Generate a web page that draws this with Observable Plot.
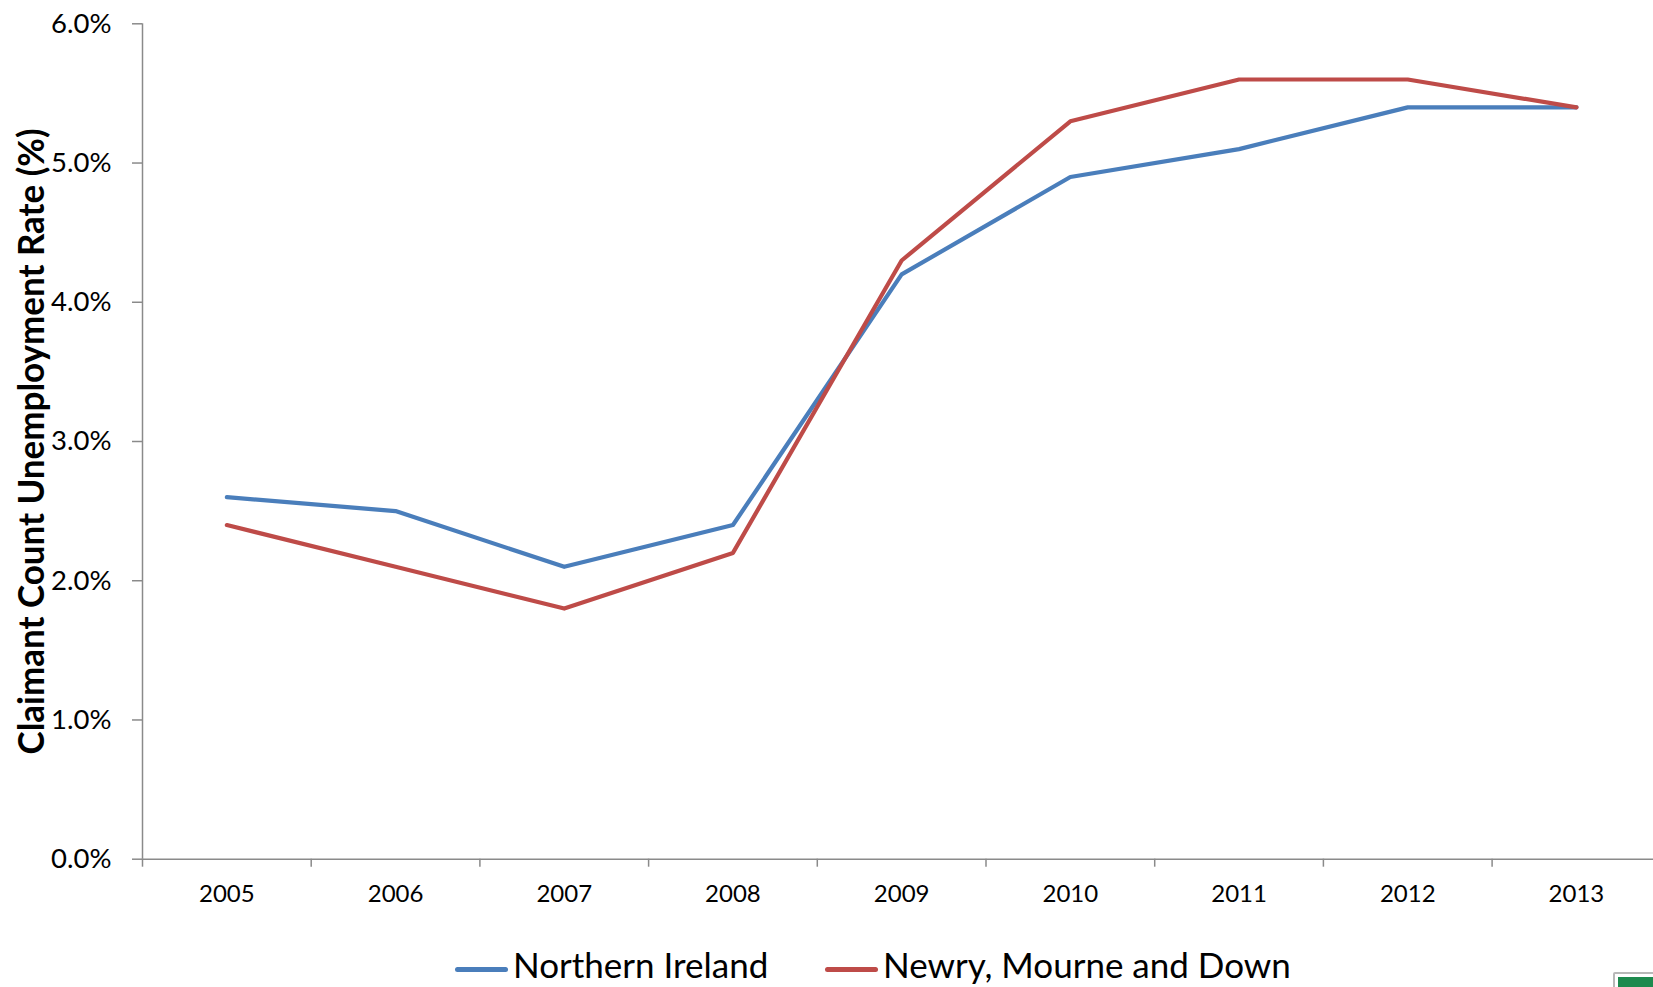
<!DOCTYPE html>
<html>
<head>
<meta charset="utf-8">
<script src="https://cdn.jsdelivr.net/npm/d3@7"></script>
<script src="https://cdn.jsdelivr.net/npm/@observablehq/plot@0.6"></script>
<style>
  body { margin: 0; background: #fff; font-family: Lato, "Open Sans", sans-serif; }
  #wrap { position: relative; width: 1653px; height: 987px; overflow: hidden; }
  #chart svg { display: block; }
  .legend { position: absolute; top: 930px; left: 0; width: 1653px; height: 57px; }
  .item { position: absolute; top: 13px; height: 42px; line-height: 42px; display: flex; align-items: center;
          font-size: 35px; color: #000; white-space: nowrap; }
  .swatch { width: 53px; height: 5px; border-radius: 3px; margin-right: 5px; margin-top: 10px; }
  #badge { position: absolute; left: 1613px; top: 972px; width: 44px; height: 20px;
           border: 2px solid #b8b8b8; border-radius: 2px; background: #fff; box-sizing: border-box; }
  #badge::after { content: ""; position: absolute; left: 3px; top: 3px; right: 0; bottom: 0; background: #1d8a4e; }
</style>
</head>
<body>
<div id="wrap">
  <div id="chart"></div>
  <div class="legend" id="legend"></div>
  <div id="badge"></div>
</div>
<script>
// Claimant count unemployment rate (%), annual
const years = [2005, 2006, 2007, 2008, 2009, 2010, 2011, 2012, 2013];
const northernIreland = [2.6, 2.5, 2.1, 2.4, 4.2, 4.9, 5.1, 5.4, 5.4];
const newryMourneDown = [2.4, 2.1, 1.8, 2.2, 4.3, 5.3, 5.6, 5.6, 5.4];

const seriesNames = ["Northern Ireland", "Newry, Mourne and Down"];
const seriesColors = ["#4A7EBB", "#BE4B48"];
const yTicks = [0, 1, 2, 3, 4, 5, 6];
const yTitle = "Claimant Count Unemployment Rate (%)";

// long-format table for the line mark
const seriesValues = [northernIreland, newryMourneDown];
const rows = seriesNames.flatMap((name, s) =>
  years.map((year, i) => ({ series: name, year, rate: seriesValues[s][i] })));

// category boundaries between the year slots (tick marks on the x axis)
const boundaries = years.map(y => y - 0.5);

const axisGrey = "#8a8a8a";
const plotW = 1653, plotH = 930;
const frameLeft = 142, slotWidth = 168.7, frameTop = 23.3, frameBottom = 858.7;

const chart = Plot.plot({
  width: plotW,
  height: plotH,
  marginLeft: frameLeft,
  marginRight: 0,
  marginTop: frameTop,
  marginBottom: plotH - frameBottom,
  style: { fontFamily: "Lato, 'Open Sans', sans-serif", color: "#000", background: "#fff" },
  x: { type: "linear", domain: [years[0] - 0.5, years[years.length - 1] + 0.5],
       range: [frameLeft, frameLeft + slotWidth * years.length] },
  y: { domain: [yTicks[0], yTicks[yTicks.length - 1]], range: [frameBottom, frameTop] },
  color: { domain: seriesNames, range: seriesColors },
  marks: [
    Plot.ruleX([boundaries[0]], { stroke: axisGrey, strokeWidth: 1.5 }),
    Plot.ruleY([0], { stroke: axisGrey, strokeWidth: 1.5 }),
    Plot.axisY(yTicks, {
      label: null, tickSize: 10, tickPadding: 21, fontSize: 27.5,
      stroke: axisGrey, strokeWidth: 1.5, fill: "#000",
      tickFormat: d => d.toFixed(1) + "%"
    }),
    Plot.axisX(boundaries, {
      label: null, tickSize: 8, stroke: axisGrey, strokeWidth: 1.5, tickFormat: () => ""
    }),
    Plot.axisX(years, {
      label: null, tickSize: 0, tickPadding: 26, fontSize: 24, fill: "#000",
      tickFormat: d => String(d)
    }),
    Plot.text([yTitle], {
      frameAnchor: "left", rotate: -90, dx: -110, fontSize: 36, fontWeight: "bold",
      fill: "#000", textAnchor: "middle"
    }),
    Plot.line(rows, {
      x: "year", y: "rate", z: "series", stroke: "series",
      strokeWidth: 4.2, strokeLinecap: "round", strokeLinejoin: "round"
    })
  ]
});

// condense the bold axis title to the narrow face used in the chart
for (const t of chart.querySelectorAll("text")) {
  if (t.textContent === yTitle) {
    t.setAttribute("textLength", 626);
    t.setAttribute("lengthAdjust", "spacingAndGlyphs");
  }
}

document.getElementById("chart").appendChild(chart);

// legend below the plot
const legend = document.getElementById("legend");
const itemLeft = [455, 825];
seriesNames.forEach((name, i) => {
  const item = document.createElement("div");
  item.className = "item";
  item.style.left = itemLeft[i] + "px";
  const sw = document.createElement("span");
  sw.className = "swatch";
  sw.style.background = seriesColors[i];
  const label = document.createElement("span");
  label.textContent = name;
  item.append(sw, label);
  legend.appendChild(item);
});
</script>
</body>
</html>
